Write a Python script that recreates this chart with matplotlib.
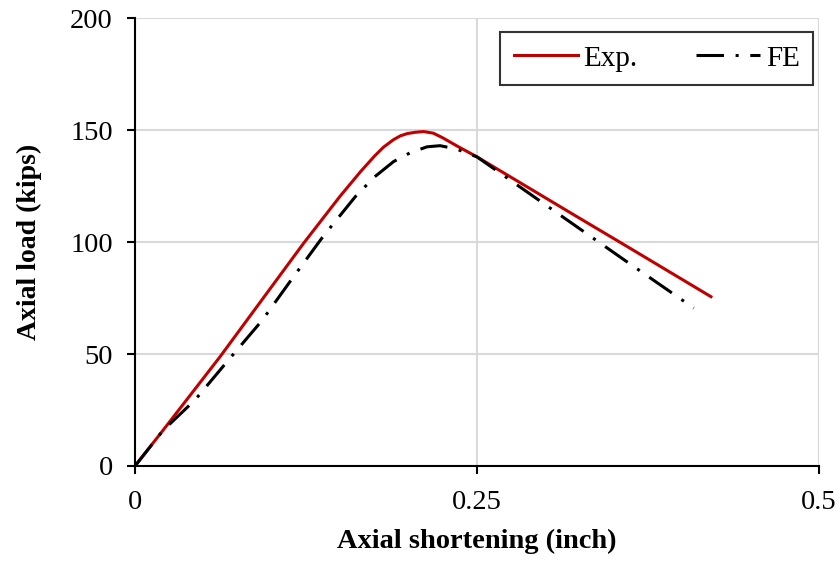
import matplotlib.pyplot as plt

plt.rcParams['font.family'] = ['Liberation Serif', 'DejaVu Serif']

# Exp. curve (axial shortening in inch, axial load in kips)
exp_x = [0, 0.0207, 0.0622, 0.1232, 0.1500, 0.1650, 0.1750, 0.1816, 0.1890,
         0.1940, 0.1990, 0.2050, 0.2110, 0.2180, 0.2250, 0.2350, 0.2500,
         0.3209, 0.3600, 0.4210]
exp_y = [0, 16.1, 48.8, 99.4, 120.5, 131.5, 138.3, 142.3, 145.7,
         147.4, 148.4, 149.0, 149.3, 148.6, 146.5, 143.0, 138.0,
         112.1, 97.9, 75.6]

# FE curve
fe_x = [0, 0.0207, 0.0439, 0.0683, 0.0928, 0.1147, 0.1374, 0.1610, 0.1750,
        0.1890, 0.2010, 0.2135, 0.2230, 0.2350, 0.2500, 0.3209, 0.3600, 0.4085]
fe_y = [0, 16.0, 29.5, 47.3, 64.9, 83.5, 102.4, 120.2, 129.0,
        135.9, 139.8, 142.5, 143.0, 141.5, 138.0, 107.7, 91.0, 70.5]

fig = plt.figure(figsize=(8.4, 5.63), dpi=100)
ax = fig.add_axes([0.1607, 0.1723, 0.8143, 0.7957])

ax.plot(exp_x, exp_y, color='#c00000', lw=2.2, label='Exp.')
ax.plot(fe_x, fe_y, color='black', lw=2.2, dashes=(9, 3.8, 1, 3.8), label='FE')

ax.set_xlim(0, 0.5)
ax.set_ylim(0, 200)
ax.set_xticks([0, 0.25, 0.5])
ax.set_xticklabels(['0', '0.25', '0.5'])
ax.set_yticks([0, 50, 100, 150, 200])
ax.grid(True, color='#d9d9d9', lw=1.5)
ax.set_axisbelow(True)

for s in ['top', 'right']:
    ax.spines[s].set_visible(False)
for s in ['left', 'bottom']:
    ax.spines[s].set_linewidth(1.5)
ax.tick_params(direction='out', length=6, width=1.5, labelsize=20.5)
ax.tick_params(axis='x', pad=11)
ax.tick_params(axis='y', pad=10)

ax.set_xlabel('Axial shortening (inch)', fontsize=20.5, fontweight='bold', labelpad=10)
ax.set_ylabel('Axial load (kips)', fontsize=20, fontweight='bold', labelpad=20)

leg = ax.legend(loc='upper right', ncol=2, fontsize=21, frameon=True, fancybox=False,
                edgecolor='black', handlelength=2.2, handletextpad=0.2,
                columnspacing=2.0, borderpad=0.45, borderaxespad=0,
                bbox_to_anchor=(0.9912, 0.9688))
leg.get_frame().set_linewidth(1.5)

fig.savefig('out.png', dpi=100)
